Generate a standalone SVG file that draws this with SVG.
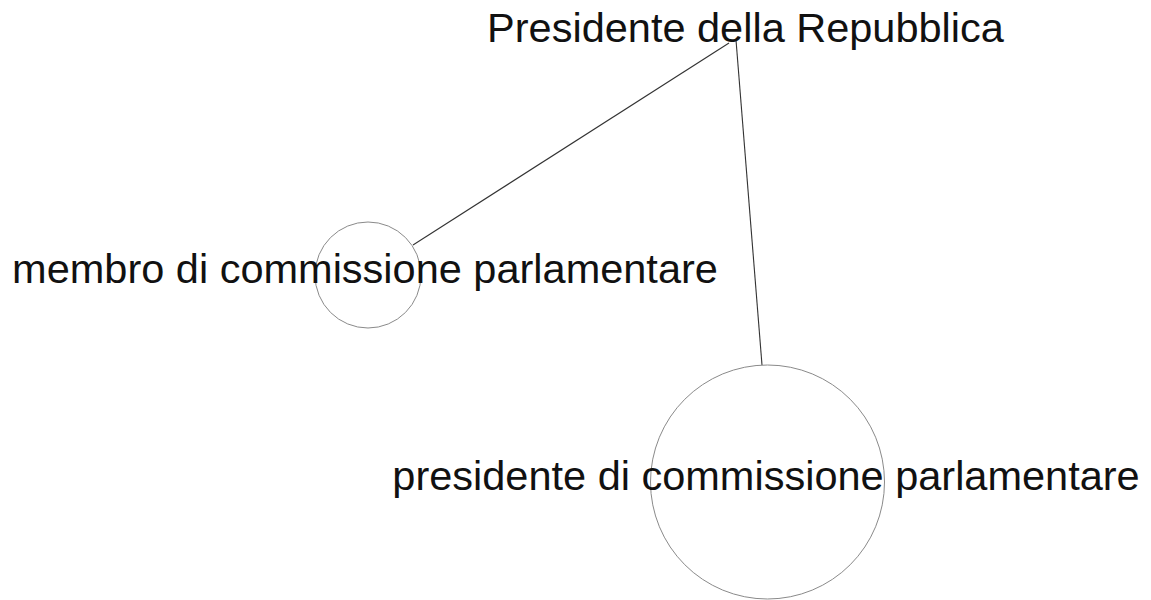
<svg xmlns="http://www.w3.org/2000/svg" width="1151" height="600" viewBox="0 0 1151 600">
<style>
.lbl{font-family:"Liberation Sans",Arial,sans-serif;font-size:41.5px;fill:#111;text-anchor:middle}
.node{fill:none;stroke:#8a8a8a;stroke-width:1}
.edge{stroke:#333;stroke-width:1.1;fill:none}
</style>
<rect width="1151" height="600" fill="#fff"/>
<g id="connectors">
<line class="edge" x1="729" y1="43" x2="413" y2="245"/>
<line class="edge" x1="736" y1="40" x2="762" y2="365"/>
</g>
<g id="node-presidente-repubblica">
<text class="lbl" x="745.5" y="42">Presidente della Repubblica</text>
</g>
<g id="node-membro">
<circle class="node" cx="368" cy="275" r="53"/>
<text class="lbl" x="365" y="283">membro di commissione parlamentare</text>
</g>
<g id="node-presidente-commissione">
<circle class="node" cx="767.5" cy="482" r="117"/>
<text class="lbl" x="766" y="490">presidente di commissione parlamentare</text>
</g>
</svg>
